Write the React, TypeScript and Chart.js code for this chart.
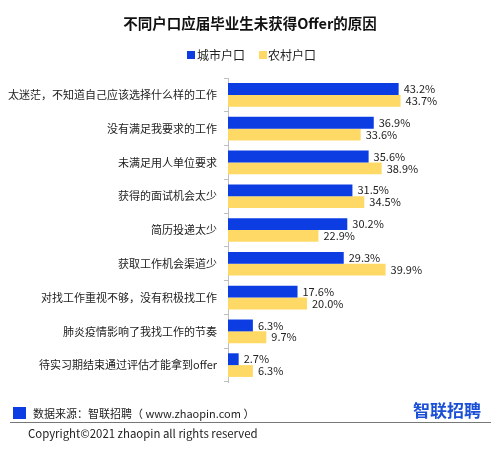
import React, { useEffect, useRef } from "react";
import { Chart, registerables } from "chart.js";

Chart.register(...registerables);

const categories = [
  "太迷茫，不知道自己应该选择什么样的工作",
  "没有满足我要求的工作",
  "未满足用人单位要求",
  "获得的面试机会太少",
  "简历投递太少",
  "获取工作机会渠道少",
  "对找工作重视不够，没有积极找工作",
  "肺炎疫情影响了我找工作的节奏",
  "待实习期结束通过评估才能拿到offer",
];
const urbanValues = [43.2, 36.9, 35.6, 31.5, 30.2, 29.3, 17.6, 6.3, 2.7];
const ruralValues = [43.7, 33.6, 38.9, 34.5, 22.9, 39.9, 20.0, 9.7, 6.3];
const seriesNames = ["城市户口", "农村户口"];

const BLUE = "#0b3de3";
const YELLOW = "#ffd966";
const FONT = "'Noto Sans CJK SC', 'Noto Sans', sans-serif";

const valueLabels = {
  id: "valueLabels",
  afterDatasetsDraw(chart: any) {
    const ctx = chart.ctx;
    ctx.save();
    ctx.font = `11px ${FONT}`;
    ctx.fillStyle = "#222";
    ctx.textAlign = "left";
    ctx.textBaseline = "middle";
    chart.data.datasets.forEach((ds: any, i: number) => {
      const meta = chart.getDatasetMeta(i);
      meta.data.forEach((el: any, j: number) => {
        ctx.fillText(ds.data[j].toFixed(1) + "%", el.x + 5, el.y);
      });
    });
    ctx.restore();
  },
};

export default function App() {
  const ref = useRef<HTMLCanvasElement | null>(null);
  useEffect(() => {
    if (!ref.current) return;
    const chart = new Chart(ref.current, {
      type: "bar",
      data: {
        labels: categories,
        datasets: [
          { label: seriesNames[0], data: urbanValues, backgroundColor: BLUE },
          { label: seriesNames[1], data: ruralValues, backgroundColor: YELLOW },
        ],
      },
      options: {
        indexAxis: "y",
        animation: false,
        responsive: false,
        maintainAspectRatio: false,
        layout: { padding: { top: 78, bottom: 73, left: 0, right: 35 } },
        plugins: { legend: { display: false }, title: { display: false }, tooltip: { enabled: false } },
        datasets: { bar: { categoryPercentage: 0.7, barPercentage: 1.0 } },
        scales: {
          x: { display: false, min: 0, max: 60 },
          y: {
            afterFit(scale: any) {
              scale.width = 228;
            },
            grid: { drawOnChartArea: false, drawTicks: true, tickLength: 4, color: "#bfbfbf" },
            border: { color: "#bfbfbf" },
            ticks: { font: { size: 11, family: FONT }, color: "#222", padding: 7 },
          },
        },
      },
      plugins: [valueLabels],
    } as any);
    return () => chart.destroy();
  }, []);

  const abs = (s: React.CSSProperties): React.CSSProperties => ({ position: "absolute", whiteSpace: "nowrap", ...s });

  return (
    <div style={{ position: "absolute", left: 0, top: 0, width: 500, height: 455, background: "#fff", fontFamily: FONT, color: "#222" }}>
      <canvas ref={ref} width={500} height={455} style={{ position: "absolute", left: 0, top: 0 }} />
      <div style={abs({ left: 0, width: 500, top: 13, textAlign: "center", fontSize: 14.5, fontWeight: 700, lineHeight: "20px", color: "#111" })}>
        不同户口应届毕业生未获得Offer的原因
      </div>
      <div style={abs({ left: 187, top: 51, width: 8, height: 8, background: BLUE })} />
      <div style={abs({ left: 197, top: 47, fontSize: 12, lineHeight: "16px" })}>{seriesNames[0]}</div>
      <div style={abs({ left: 259, top: 51, width: 8, height: 8, background: YELLOW })} />
      <div style={abs({ left: 268, top: 47, fontSize: 12, lineHeight: "16px" })}>{seriesNames[1]}</div>

      <div style={abs({ left: 13, top: 407, width: 13, height: 12, background: BLUE })} />
      <div style={abs({ left: 33, top: 405, fontSize: 11, lineHeight: "16px" })}>数据来源：智联招聘（ www.zhaopin.com ）</div>
      <div style={abs({ left: 413, top: 399, fontSize: 17, fontWeight: 700, lineHeight: "22px", color: "#1a4fd6" })}>智联招聘</div>
      <div style={abs({ left: 10, top: 422, width: 481, height: 1, background: "#777" })} />
      <div style={abs({ left: 28, top: 425, fontSize: 11.4, lineHeight: "16px" })}>Copyright©2021 zhaopin all rights reserved</div>
    </div>
  );
}
